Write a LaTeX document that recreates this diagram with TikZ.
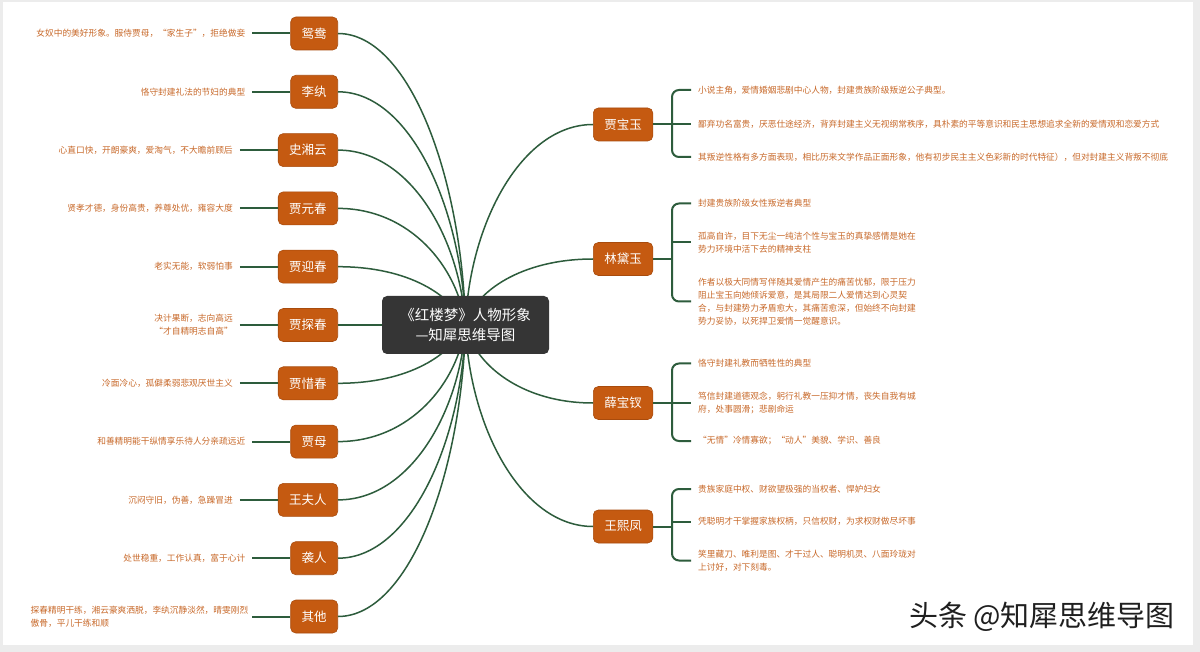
\documentclass[tikz,border=0pt]{standalone}
\usepackage{fontspec}
\setmainfont{Noto Sans CJK SC}
\definecolor{framegray}{HTML}{ECECEC}
\definecolor{nodefill}{HTML}{C55A11}
\definecolor{nodeborder}{HTML}{A84B0D}
\definecolor{desccol}{HTML}{C8692A}
\definecolor{linkcol}{HTML}{2D5C3C}
\definecolor{centerfill}{HTML}{353535}
\tikzset{
  topic/.style={fill=nodefill, draw=nodeborder, line width=0.6pt, rounded corners=5pt,
    minimum height=33pt, inner xsep=11pt, inner ysep=0pt, text=white,
    font=\fontsize{12.5}{14}\selectfont},
  desc/.style={text=desccol, font=\fontsize{8.7}{13}\selectfont, inner sep=0pt},
  curve/.style={draw=linkcol, line width=1.5pt},
  hline/.style={draw=linkcol, line width=2pt},
  brk/.style={draw=linkcol, line width=2pt, rounded corners=7pt},
  maintopic/.style={fill=centerfill, rounded corners=5pt, minimum width=167pt,
    minimum height=58pt, text=white, align=center,
    font=\fontsize{14.5}{20}\selectfont},
}
\begin{document}
\begin{tikzpicture}[x=1pt,y=-1pt]
\useasboundingbox (0,0) rectangle (1200,652);
\fill[framegray] (0,0) rectangle (1200,652);
\fill[white] (3,2) rectangle (1193,645);

% center
\coordinate (Cc) at (465.5,325);

% left topics
\node[topic, anchor=east] (L1) at (338,33.5) {鸳鸯};
\node[topic, anchor=east] (L2) at (338,91.8) {李纨};
\node[topic, anchor=east] (L3) at (338,150.1) {史湘云};
\node[topic, anchor=east] (L4) at (338,208.4) {贾元春};
\node[topic, anchor=east] (L5) at (338,266.7) {贾迎春};
\node[topic, anchor=east] (L6) at (338,325) {贾探春};
\node[topic, anchor=east] (L7) at (338,383.3) {贾惜春};
\node[topic, anchor=east] (L8) at (338,441.6) {贾母};
\node[topic, anchor=east] (L9) at (338,499.9) {王夫人};
\node[topic, anchor=east] (L10) at (338,558.2) {袭人};
\node[topic, anchor=east] (L11) at (338,616.5) {其他};

% right topics
\node[topic, anchor=west] (R1) at (593,124.5) {贾宝玉};
\node[topic, anchor=west] (R2) at (593,259) {林黛玉};
\node[topic, anchor=west] (R3) at (593,403) {薛宝钗};
\node[topic, anchor=west] (R4) at (593,526.5) {王熙凤};

% curves from center
\draw[curve] (L1.east) .. controls +(72,0) and (462,179) .. (Cc);
\draw[curve] (L2.east) .. controls +(72,0) and (462,208) .. (Cc);
\draw[curve] (L3.east) .. controls +(72,0) and (460,238) .. (Cc);
\draw[curve] (L4.east) .. controls +(72,0) and (458,267) .. (Cc);
\draw[curve] (L5.east) .. controls +(72,0) and (452,296) .. (Cc);
\draw[curve] (L6.east) -- (Cc);
\draw[curve] (L7.east) .. controls +(72,0) and (452,354) .. (Cc);
\draw[curve] (L8.east) .. controls +(72,0) and (458,383) .. (Cc);
\draw[curve] (L9.east) .. controls +(72,0) and (460,412) .. (Cc);
\draw[curve] (L10.east) .. controls +(72,0) and (462,442) .. (Cc);
\draw[curve] (L11.east) .. controls +(72,0) and (462,471) .. (Cc);
\draw[curve] (R1.west) .. controls +(-72,0) and (469,225) .. (Cc);
\draw[curve] (R2.west) .. controls +(-72,0) and (474,292) .. (Cc);
\draw[curve] (R3.west) .. controls +(-72,0) and (474,364) .. (Cc);
\draw[curve] (R4.west) .. controls +(-72,0) and (469,426) .. (Cc);

\node[maintopic] (C) at (Cc) {《红楼梦》人物形象\\—知犀思维导图};

% left descriptions
\node[desc, anchor=east] (T1) at ([xshift=-45pt]L1.west) {女奴中的美好形象。服侍贾母，“家生子”，拒绝做妾};
\node[desc, anchor=east] (T2) at ([xshift=-45pt]L2.west) {恪守封建礼法的节妇的典型};
\node[desc, anchor=east] (T3) at ([xshift=-45pt]L3.west) {心直口快，开朗豪爽，爱淘气，不大瞻前顾后};
\node[desc, anchor=east] (T4) at ([xshift=-45pt]L4.west) {贤孝才德，身份高贵，养尊处优，雍容大度};
\node[desc, anchor=east] (T5) at ([xshift=-45pt]L5.west) {老实无能，软弱怕事};
\node[desc, anchor=east, align=center] (T6) at ([xshift=-45pt]L6.west) {决计果断，志向高远\\“才自精明志自高”};
\node[desc, anchor=east] (T7) at ([xshift=-45pt]L7.west) {冷面冷心，孤僻柔弱悲观厌世主义};
\node[desc, anchor=east] (T8) at ([xshift=-45pt]L8.west) {和善精明能干纵情享乐待人分亲疏远近};
\node[desc, anchor=east] (T9) at ([xshift=-45pt]L9.west) {沉闷守旧，伪善，急躁冒进};
\node[desc, anchor=east] (T10) at ([xshift=-45pt]L10.west) {处世稳重，工作认真，富于心计};
\node[desc, anchor=east, align=left] (T11) at ([xshift=-42pt]L11.west) {探春精明干练，湘云豪爽洒脱，李纨沉静淡然，晴雯刚烈\\傲骨，平儿干练和顺};

\foreach \i in {1,...,10} {\draw[hline] ([xshift=7pt]T\i.east) -- (L\i.west);}
\draw[hline] ([xshift=4pt]T11.east) -- (L11.west);

% right descriptions
\node[desc, anchor=west] (R1a) at (698,90) {小说主角，爱情婚姻悲剧中心人物，封建贵族阶级叛逆公子典型。};
\node[desc, anchor=west] (R1b) at (698,124) {鄙弃功名富贵，厌恶仕途经济，背弃封建主义无视纲常秩序，具朴素的平等意识和民主思想追求全新的爱情观和恋爱方式};
\node[desc, anchor=west] (R1c) at (698,157) {其叛逆性格有多方面表现，相比历来文学作品正面形象，他有初步民主主义色彩新的时代特征），但对封建主义背叛不彻底};

\node[desc, anchor=west] (R2a) at (698,203.5) {封建贵族阶级女性叛逆者典型};
\node[desc, anchor=west, align=left] (R2b) at (698,242.5) {孤高自许，目下无尘一纯洁个性与宝玉的真挚感情是她在\\势力环境中活下去的精神支柱};
\node[desc, anchor=west, align=left] (R2c) at (698,301.5) {作者以极大同情写伴随其爱情产生的痛苦忧郁，限于压力\\阻止宝玉向她倾诉爱意，是其局限二人爱情达到心灵契\\合，与封建势力矛盾愈大，其痛苦愈深，但始终不向封建\\势力妥协，以死捍卫爱情一觉醒意识。};

\node[desc, anchor=west] (R3a) at (698,363.5) {恪守封建礼教而牺牲性的典型};
\node[desc, anchor=west, align=left] (R3b) at (698,403) {笃信封建道德观念，躬行礼教一压抑才情，丧失自我有城\\府，处事圆滑；悲剧命运};
\node[desc, anchor=west] (R3c) at (698,441) {“无情”冷情寡欲；“动人”美貌、学识、善良};

\node[desc, anchor=west] (R4a) at (698,489) {贵族家庭中权、财欲望极强的当权者、悍妒妇女};
\node[desc, anchor=west] (R4b) at (698,521.5) {凭聪明才干掌握家族权柄，只信权财，为求权财做尽坏事};
\node[desc, anchor=west, align=left] (R4c) at (698,560.5) {笑里藏刀、唯利是图、才干过人、聪明机灵、八面玲珑对\\上讨好，对下刻毒。};

% brackets
\foreach \k in {1,2,3,4} {
  \coordinate (B\k a) at ([xshift=-26pt]R\k a.west);
  \coordinate (B\k c) at ([xshift=-26pt]R\k c.west);
  \draw[brk] ([xshift=-7pt]R\k a.west) -| (B\k c) -- ([xshift=-7pt]R\k c.west);
  \draw[hline] ([xshift=-26pt]R\k b.west) -- ([xshift=-7pt]R\k b.west);
  \draw[hline] (R\k.east) -- (R\k.east -| B\k a);
}

% watermark
\node[text=black!88, font=\fontsize{29}{31}\selectfont, inner sep=0pt] (W) at (1042,617) {头条 @知犀思维导图};
\end{tikzpicture}
\end{document}
